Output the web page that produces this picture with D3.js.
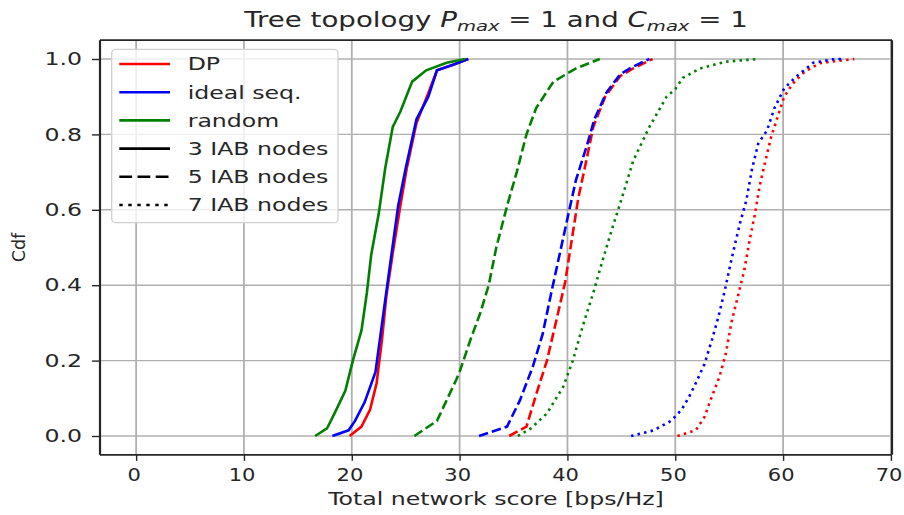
<!DOCTYPE html>
<html lang="en">
<head>
<meta charset="utf-8">
<title>Tree topology CDF</title>
<script src="https://cdn.jsdelivr.net/npm/d3@7"></script>
<style>
  body { margin: 0; background: #fff; }
  text { font-family: "DejaVu Sans", sans-serif; fill: #262626; }
</style>
</head>
<body>
<script type="text/javascript">

var width = 904;
var height = 515;
var sx = 1.35; // the picture is stretched horizontally, so text is too

var xTicks = [0, 10, 20, 30, 40, 50, 60, 70];
var yTicks = [0.0, 0.2, 0.4, 0.6, 0.8, 1.0];

// [total network score, cdf]
var dp3 = [[19.8,0],[20.9,0.025],[21.7,0.07],[22.3,0.14],[22.8,0.255],[23.2,0.37],[23.8,0.485],[24.5,0.61],[25.1,0.71],[26.0,0.83],[27.1,0.91],[27.9,0.97],[29.4,0.985],[30.8,1.0]];
var ideal3 = [[18.2,0],[19.7,0.015],[20.3,0.04],[21.2,0.09],[22.2,0.17],[22.6,0.255],[23.1,0.36],[23.7,0.485],[24.3,0.61],[25.0,0.71],[26.0,0.84],[27.1,0.90],[27.9,0.97],[29.4,0.985],[30.8,1.0]];
var random3 = [[16.6,0],[17.7,0.02],[18.4,0.06],[19.4,0.12],[20.1,0.2],[20.9,0.28],[21.4,0.38],[21.8,0.48],[22.5,0.59],[23.1,0.71],[23.8,0.82],[24.5,0.86],[25.6,0.94],[26.9,0.97],[28.8,0.99],[30.5,1.0]];

var dp5 = [[34.6,0],[36.2,0.025],[37.1,0.11],[38.1,0.2],[39.0,0.31],[39.8,0.41],[40.4,0.52],[41.0,0.63],[41.6,0.71],[42.4,0.82],[43.5,0.90],[44.9,0.955],[46.1,0.975],[47.9,1.0]];
var ideal5 = [[31.8,0],[34.4,0.025],[35.6,0.095],[36.8,0.185],[37.7,0.27],[38.5,0.38],[39.3,0.485],[40.1,0.59],[40.8,0.68],[41.8,0.77],[42.5,0.84],[43.6,0.91],[44.9,0.96],[46.1,0.98],[47.6,1.0]];
var random5 = [[25.8,0],[27.9,0.04],[29.7,0.15],[30.0,0.17],[31.0,0.255],[31.9,0.325],[32.7,0.40],[33.4,0.50],[34.4,0.61],[35.3,0.70],[36.2,0.80],[37.1,0.87],[38.7,0.94],[40.8,0.975],[43.0,1.0]];

var dp7 = [[50.2,0],[51.9,0.015],[52.7,0.05],[53.4,0.105],[54.1,0.157],[54.7,0.22],[55.2,0.30],[55.8,0.37],[56.4,0.44],[56.9,0.52],[57.4,0.59],[57.8,0.66],[58.3,0.723],[58.9,0.794],[59.5,0.847],[60.1,0.90],[60.9,0.935],[62.0,0.966],[63.4,0.989],[66.6,1.0]];
var ideal7 = [[45.9,0],[48.0,0.015],[49.6,0.04],[50.6,0.07],[51.3,0.105],[51.9,0.14],[52.7,0.19],[53.4,0.255],[54.0,0.316],[54.6,0.387],[55.2,0.467],[56.0,0.564],[56.6,0.626],[57.1,0.706],[57.7,0.776],[58.5,0.81],[59.2,0.87],[60.1,0.922],[61.2,0.953],[62.8,0.99],[64.6,0.999],[65.4,1.0]];
var random7 = [[35.4,0],[36.6,0.02],[38.1,0.06],[39.6,0.13],[40.5,0.2],[41.4,0.29],[42.4,0.38],[43.3,0.47],[44.2,0.555],[45.2,0.645],[46.1,0.73],[47.6,0.82],[49.2,0.90],[50.0,0.92],[50.7,0.95],[52.3,0.975],[54.7,0.993],[57.8,1.0]];

var methodNames = ["DP", "ideal seq.", "random"];
var methodColors = ["#ff0000", "#0000ff", "#008000"];
var nodeNames = ["3 IAB nodes", "5 IAB nodes", "7 IAB nodes"];
var nodeDashes = [null, "9.5,4", "2.5,4.2"];
var legendDashes = [null, "12.8,5.4", "3.4,5.6"]; // same pattern, stretched along x

var series = [
    {data: dp3, color: 0, dash: 0}, {data: ideal3, color: 1, dash: 0}, {data: random3, color: 2, dash: 0},
    {data: dp5, color: 0, dash: 1}, {data: ideal5, color: 1, dash: 1}, {data: random5, color: 2, dash: 1},
    {data: dp7, color: 0, dash: 2}, {data: ideal7, color: 1, dash: 2}, {data: random7, color: 2, dash: 2}
];

var axLeft = 100, axRight = 892, axTop = 40.15, axBottom = 454.85;

var x = d3.scaleLinear().domain([-3.35, 70.1]).range([axLeft, axRight]);
var y = d3.scaleLinear().domain([-0.05, 1.05]).range([axBottom, axTop]);

var svg = d3.select("body").append("svg")
    .attr("width", width)
    .attr("height", height);

svg.append("rect").attr("width", width).attr("height", height).attr("fill", "#fff");

// grid
svg.append("g").selectAll("line").data(xTicks).enter().append("line")
    .attr("x1", d => x(d)).attr("x2", d => x(d))
    .attr("y1", axTop).attr("y2", axBottom)
    .attr("stroke", "#b0b0b0").attr("stroke-width", 1.8);
svg.append("g").selectAll("line").data(yTicks).enter().append("line")
    .attr("x1", axLeft).attr("x2", axRight)
    .attr("y1", d => y(d)).attr("y2", d => y(d))
    .attr("stroke", "#b0b0b0").attr("stroke-width", 1.4);

// curves
var line = d3.line().x(d => x(d[0])).y(d => y(d[1]));
svg.append("g").selectAll("path").data(series).enter().append("path")
    .attr("d", d => line(d.data))
    .attr("fill", "none")
    .attr("stroke", d => methodColors[d.color])
    .attr("stroke-width", 2.6)
    .attr("stroke-dasharray", d => nodeDashes[d.dash]);

// axes
var xAxis = svg.append("g")
    .attr("transform", "translate(0," + axBottom + ")")
    .call(d3.axisBottom(x).tickValues(xTicks).tickSize(6).tickPadding(8).tickFormat(d3.format("d")));
var yAxis = svg.append("g")
    .attr("transform", "translate(" + axLeft + ",0)")
    .call(d3.axisLeft(y).tickValues(yTicks).tickSize(8).tickFormat(d3.format(".1f")));

[xAxis, yAxis].forEach(function(g) {
    g.select(".domain").remove();
    g.selectAll(".tick line").attr("stroke", "#262626").attr("stroke-width", 1.4);
    g.selectAll(".tick text").attr("font-size", 17.5).attr("font-family", "DejaVu Sans").attr("fill", "#262626");
});
xAxis.selectAll(".tick text").attr("x", -2).attr("transform", "scale(1.2,1)");
yAxis.selectAll(".tick text").attr("x", -18 / sx).attr("transform", "scale(" + sx + ",1)");

// spines
svg.append("line").attr("x1", axLeft).attr("x2", axRight).attr("y1", axTop).attr("y2", axTop)
    .attr("stroke", "#262626").attr("stroke-width", 1.6);
svg.append("line").attr("x1", axLeft).attr("x2", axRight).attr("y1", axBottom).attr("y2", axBottom)
    .attr("stroke", "#262626").attr("stroke-width", 1.6);
svg.append("line").attr("x1", axLeft).attr("x2", axLeft).attr("y1", axTop).attr("y2", axBottom)
    .attr("stroke", "#262626").attr("stroke-width", 2.2);
svg.append("line").attr("x1", axRight).attr("x2", axRight).attr("y1", axTop).attr("y2", axBottom)
    .attr("stroke", "#262626").attr("stroke-width", 2.2);

// axis labels
svg.append("text")
    .attr("transform", "translate(" + ((axLeft + axRight) / 2) + ",505) scale(" + sx + ",1)")
    .attr("text-anchor", "middle").attr("font-size", 17.5)
    .text("Total network score [bps/Hz]");
svg.append("text")
    .attr("transform", "translate(25," + ((axTop + axBottom) / 2) + ") rotate(-90)")
    .attr("text-anchor", "middle").attr("font-size", 17.5)
    .text("Cdf");

// title with math parts
var title = svg.append("text")
    .attr("transform", "translate(" + ((axLeft + axRight) / 2) + ",26.7) scale(" + sx + ",1)")
    .attr("text-anchor", "middle").attr("font-size", 20.5);
title.append("tspan").text("Tree topology ");
title.append("tspan").attr("font-style", "italic").text("P");
title.append("tspan").attr("font-style", "italic").attr("font-size", 14.5).attr("dy", 4).text("max");
title.append("tspan").attr("dy", -4).text(" = 1 and ");
title.append("tspan").attr("font-style", "italic").text("C");
title.append("tspan").attr("font-style", "italic").attr("font-size", 14.5).attr("dy", 4).text("max");
title.append("tspan").attr("dy", -4).text(" = 1");

// legend
var legendItems = [];
methodNames.forEach(function(n, i) { legendItems.push({label: n, color: methodColors[i], dash: null}); });
nodeNames.forEach(function(n, i) { legendItems.push({label: n, color: "#000", dash: legendDashes[i]}); });

var legend = svg.append("g");
legend.append("rect")
    .attr("x", 111.7).attr("y", 49.3).attr("width", 226.3).attr("height", 173.4)
    .attr("rx", 4).attr("ry", 4)
    .attr("fill", "#fff").attr("fill-opacity", 0.8)
    .attr("stroke", "#d0d0d0").attr("stroke-width", 1.3);
var rows = legend.selectAll("g.row").data(legendItems).enter().append("g")
    .attr("class", "row")
    .attr("transform", (d, i) => "translate(0," + (64 + i * 28.2) + ")");
rows.append("line")
    .attr("x1", 119.3).attr("x2", 170)
    .attr("stroke", d => d.color).attr("stroke-width", 2.6)
    .attr("stroke-dasharray", d => d.dash);
rows.append("text")
    .attr("transform", "translate(187.7,0) scale(" + sx + ",1)")
    .attr("dy", "0.36em").attr("font-size", 17.5)
    .text(d => d.label);

</script>
</body>
</html>
